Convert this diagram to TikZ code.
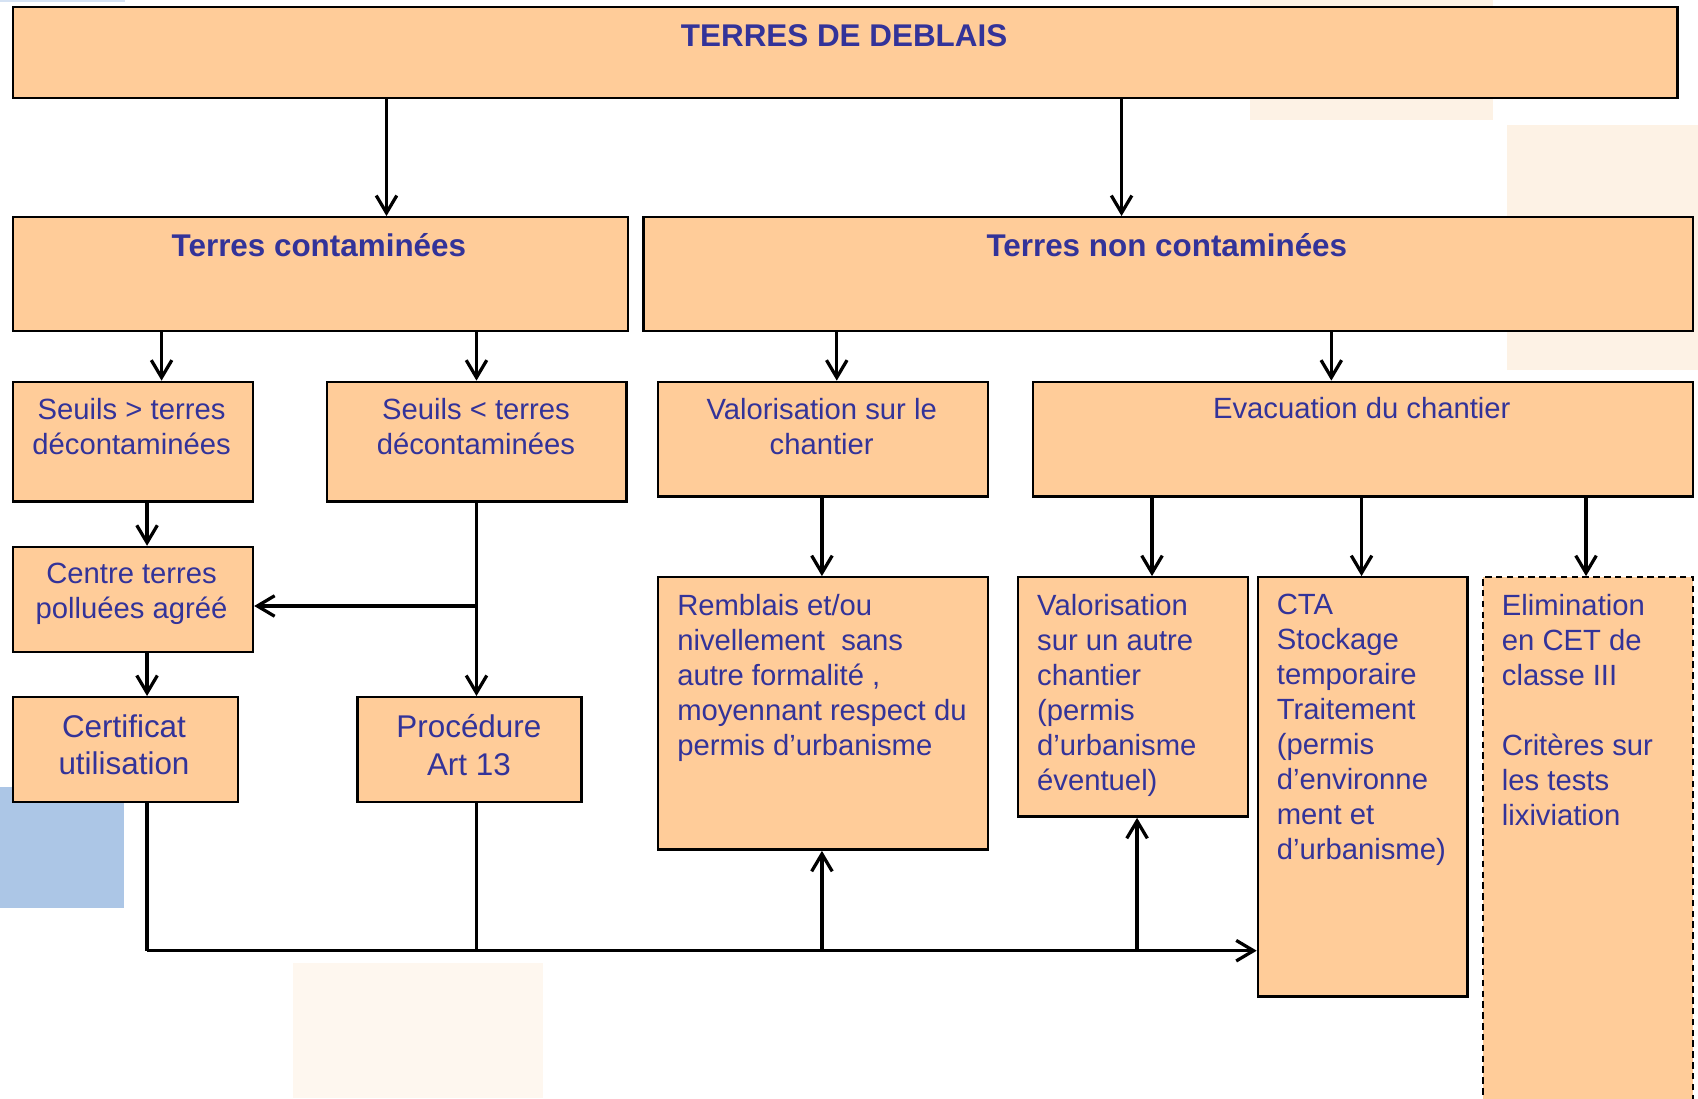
\documentclass[tikz,border=0pt]{standalone}
\usepackage{fontspec}
\setmainfont{Liberation Sans}
\usetikzlibrary{arrows.meta}

\definecolor{peach}{RGB}{255,204,153}
\definecolor{ink}{RGB}{51,51,153}
\definecolor{paleblue}{RGB}{172,198,230}
\definecolor{palepeach}{RGB}{253,242,229}

\tikzset{
  box/.style={draw, line width=2.2pt, fill=peach, inner sep=0pt, anchor=north west},
  dashbox/.style={box, dash pattern=on 6pt off 4pt, line width=1.6pt},
  txt/.style={text=ink, inner sep=0pt, anchor=north, align=center,
    font=\fontsize{27}{32.4}\selectfont, execute at begin node=\strut},
  lefttxt/.style={txt, anchor=north west, align=left},
  title/.style={txt, font=\bfseries\fontsize{29}{34.8}\selectfont},
  bigtxt/.style={txt, font=\fontsize{29}{34.7}\selectfont},
  link/.style={line width=3pt}
}

\begin{document}
\begin{tikzpicture}[x=1pt, y=-1pt, >={Straight Barb[length=16pt,width=19pt]}]
  \useasboundingbox (0,0) rectangle (1568,1014);

  % faded pieces behind the chart
  \fill[paleblue] (0,726.4) rectangle (114.8,838.8);
  \fill[paleblue!50] (0,0) rectangle (115,2);
  \fill[palepeach] (1154,0) rectangle (1379,111);
  \fill[palepeach] (1391.3,115.4) rectangle (1568,341.7);
  \fill[palepeach!60] (270.7,889) rectangle (501.5,1014);

  % boxes
  \node[box, minimum width=1537, minimum height=84] (deblais) at (11,5.5) {};
  \node[box, minimum width=568, minimum height=105] (contam) at (11,199.5) {};
  \node[box, minimum width=969.5, minimum height=105] (noncontam) at (593,199.5) {};
  \node[box, minimum width=221.5, minimum height=110.5] (seuilsup) at (11,351.5) {};
  \node[box, minimum width=276.5, minimum height=110.5] (seuilinf) at (301,351.5) {};
  \node[box, minimum width=304.5, minimum height=106] (valochant) at (606.5,351.5) {};
  \node[box, minimum width=609.5, minimum height=106] (evac) at (953,351.5) {};
  \node[box, minimum width=221.5, minimum height=97] (centre) at (11,504) {};
  \node[box, minimum width=207.5, minimum height=96.7] (certif) at (11,642.7) {};
  \node[box, minimum width=207, minimum height=96.7] (proced) at (329,642.7) {};
  \node[box, minimum width=304.5, minimum height=251.5] (remblais) at (606.5,532) {};
  \node[box, minimum width=212.5, minimum height=221] (valoautre) at (939,532) {};
  \node[box, minimum width=193.5, minimum height=387] (cta) at (1160.5,532) {};
  \node[dashbox, minimum width=194, minimum height=490] (elim) at (1368.5,532) {};

  % texts
  \node[title] (tdeblais) at (779.5,18.7) {TERRES DE DEBLAIS};
  \node[title] (tcontam) at (294.5,212.6) {Terres contaminées};
  \node[title] (tnoncontam) at (1077.5,212.6) {Terres non contaminées};
  \node[txt] (tseuilsup) at (121.5,367.3) {Seuils > terres\\décontaminées};
  \node[txt] (tseuilinf) at (439.5,367.3) {Seuils < terres\\décontaminées};
  \node[txt] (tvalochant) at (758.8,367.3) {Valorisation sur le\\chantier};
  \node[txt] (tevac) at (1257.5,363.5) {Evacuation du chantier};
  \node[txt] (tcentre) at (121.5,519.6) {Centre terres\\polluées agréé};
  \node[bigtxt] (tcertif) at (114.5,659.5) {Certificat\\utilisation};
  \node[bigtxt] (tproced) at (433,659.5) {Procédure\\Art 13};
  \node[lefttxt] (tremblais) at (625.2,548.2) {Remblais et/ou\\nivellement\ \ sans\\autre formalité ,\\moyennant respect du\\permis d’urbanisme};
  \node[lefttxt] (tvaloautre) at (957.6,548.2) {Valorisation\\sur un autre\\chantier\\(permis\\d’urbanisme\\éventuel)};
  \node[lefttxt] (tcta) at (1178.9,548.2) {CTA\\Stockage\\temporaire\\Traitement\\(permis\\d’environne\\ment et\\d’urbanisme)};
  \node[lefttxt] (telim) at (1386.7,548.2) {Elimination\\en CET de\\classe III\\[32.4pt]Critères sur\\les tests\\lixiviation};

  % columns of the connectors
  \coordinate (xa) at (356.9,0);
  \coordinate (xb) at (1035.7,0);
  \coordinate (xc) at (149.2,0);
  \coordinate (xd) at (440,0);
  \coordinate (xe) at (772.7,0);
  \coordinate (xf) at (1229.4,0);
  \coordinate (xg) at (135.8,0);
  \coordinate (xh) at (759,0);
  \coordinate (xi) at (1063.8,0);
  \coordinate (xj) at (1257.3,0);
  \coordinate (xk) at (1464.6,0);
  \coordinate (xl) at (1050,0);
  \coordinate (split) at (440,559.6);
  \coordinate (base) at (135.8,877.9);

  \draw[link,->] (deblais.south -| xa) -- (contam.north -| xa);
  \draw[link,->] (deblais.south -| xb) -- (noncontam.north -| xb);
  \draw[link,->] (contam.south -| xc) -- (seuilsup.north -| xc);
  \draw[link,->] (contam.south -| xd) -- (seuilinf.north -| xd);
  \draw[link,->] (noncontam.south -| xe) -- (valochant.north -| xe);
  \draw[link,->] (noncontam.south -| xf) -- (evac.north -| xf);
  \draw[link,->] (seuilsup.south -| xg) -- (centre.north -| xg);
  \draw[link,->] (centre.south -| xg) -- (certif.north -| xg);
  \draw[link,->] (seuilinf.south -| xd) -- (proced.north -| xd);
  \draw[link,->] (split) -- (centre.east |- split);
  \draw[link,->] (valochant.south -| xh) -- (remblais.north -| xh);
  \draw[link,->] (evac.south -| xi) -- (valoautre.north -| xi);
  \draw[link,->] (evac.south -| xj) -- (cta.north -| xj);
  \draw[link,->] (evac.south -| xk) -- (elim.north -| xk);

  % common line at the bottom
  \draw[link] (certif.south -| xg) -- (base);
  \draw[link,->] (base) -- (cta.west |- base);
  \draw[link] (proced.south -| xd) -- (base -| xd);
  \draw[link,->] (base -| xh) -- (remblais.south -| xh);
  \draw[link,->] (base -| xl) -- (valoautre.south -| xl);
\end{tikzpicture}
\end{document}
